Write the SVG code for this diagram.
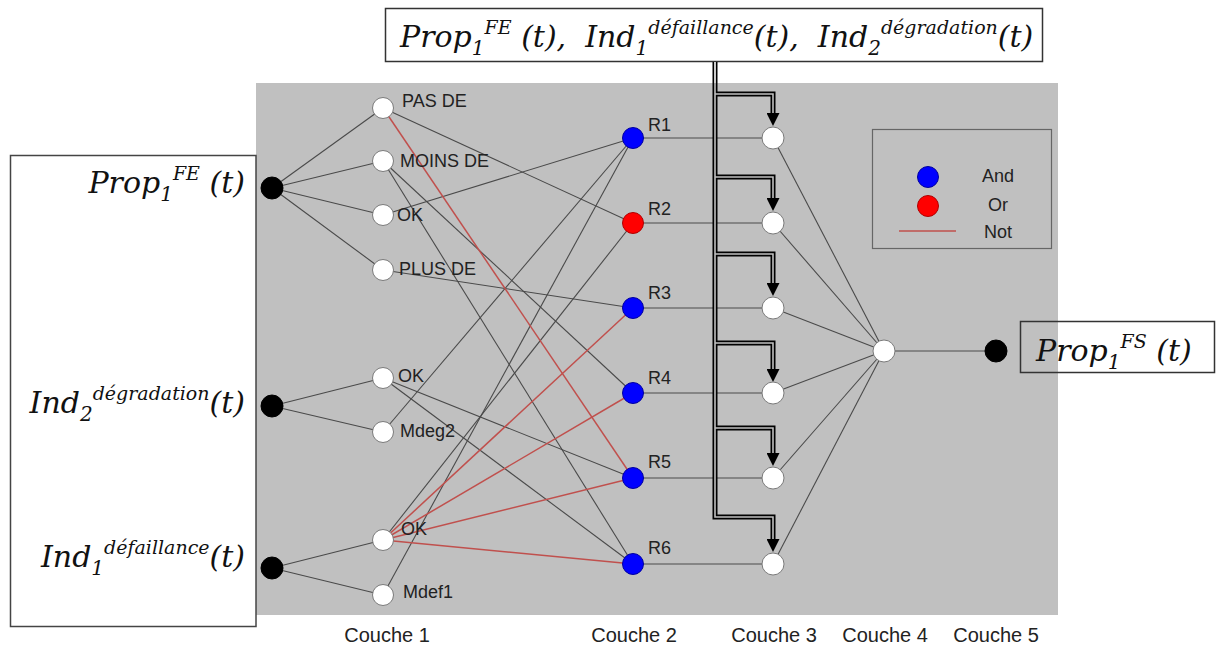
<svg xmlns="http://www.w3.org/2000/svg" width="1216" height="649" viewBox="0 0 1216 649">
<defs>
<style>
.big{font-family:"DejaVu Serif","Liberation Serif",serif;font-style:italic;font-size:30px;fill:#111}
.sub{font-size:20px}
.sup{font-size:19px}
.lbl{font-family:"Liberation Sans",Arial,sans-serif;font-size:18px;fill:#222}
.cou{font-family:"Liberation Sans",Arial,sans-serif;font-size:20px;fill:#222;text-anchor:middle}
.c{stroke:#4a4a4a;stroke-width:1.1;fill:none}
.n{stroke:#c0504d;stroke-width:1.5;fill:none}
.wn{fill:#fff;stroke:#7a7a7a;stroke-width:1}
.bn{fill:#000;stroke:#000;stroke-width:1}
.and{fill:#0000ff;stroke:#0000a0;stroke-width:1}
.or{fill:#ff0000;stroke:#b00000;stroke-width:1}
.busO{stroke:#000;stroke-width:5;fill:none}
.busI{stroke:#c0c0c0;stroke-width:1.6;fill:none}
</style>
<marker id="ah" viewBox="0 0 12 12" markerWidth="13" markerHeight="13" markerUnits="userSpaceOnUse" refX="0" refY="6" orient="auto">
<path d="M0,0 L12,6 L0,12 z" fill="#000"/>
</marker>
</defs>
<rect width="1216" height="649" fill="#fff"/>
<rect id="panel" x="256" y="83" width="802" height="532" fill="#c0c0c0"/>

<g id="left-box">
<rect x="10.5" y="155.5" width="245.5" height="471" fill="#fff" stroke="#444" stroke-width="1.5"/>
<text class="big" x="245" y="193" text-anchor="end">Prop<tspan class="sub" dy="8">1</tspan><tspan class="sup" dy="-21">FE</tspan><tspan dy="13"> (t)</tspan></text>
<text class="big" x="245" y="413" text-anchor="end">Ind<tspan class="sub" dy="8">2</tspan><tspan class="sup" dy="-21">dégradation</tspan><tspan dy="13">(t)</tspan></text>
<text class="big" x="245" y="567" text-anchor="end">Ind<tspan class="sub" dy="8">1</tspan><tspan class="sup" dy="-21">défaillance</tspan><tspan dy="13">(t)</tspan></text>
</g>

<g id="top-box">
<rect x="385.5" y="8.5" width="657" height="53" fill="#fff" stroke="#333" stroke-width="1.5"/>
<text class="big" x="400" y="47">Prop<tspan class="sub" dy="8">1</tspan><tspan class="sup" dy="-21">FE</tspan><tspan dy="13"> (t),&#160; Ind</tspan><tspan class="sub" dy="8">1</tspan><tspan class="sup" dy="-21">défaillance</tspan><tspan dy="13">(t),&#160; Ind</tspan><tspan class="sub" dy="8">2</tspan><tspan class="sup" dy="-21">dégradation</tspan><tspan dy="13">(t)</tspan></text>
</g>

<g id="connectors">
<line class="c" x1="272" y1="188" x2="383" y2="108"/>
<line class="c" x1="272" y1="188" x2="383" y2="161"/>
<line class="c" x1="272" y1="188" x2="383" y2="215"/>
<line class="c" x1="272" y1="188" x2="383" y2="270"/>
<line class="c" x1="272" y1="406" x2="383" y2="378"/>
<line class="c" x1="272" y1="406" x2="383" y2="432"/>
<line class="c" x1="272" y1="568" x2="383" y2="540"/>
<line class="c" x1="272" y1="568" x2="383" y2="595"/>
<line class="c" x1="383" y1="108" x2="633" y2="223"/>
<line class="c" x1="383" y1="161" x2="633" y2="393"/>
<line class="c" x1="383" y1="161" x2="633" y2="564"/>
<line class="c" x1="383" y1="215" x2="633" y2="138"/>
<line class="c" x1="383" y1="270" x2="633" y2="308"/>
<line class="c" x1="383" y1="378" x2="633" y2="478"/>
<line class="c" x1="383" y1="378" x2="633" y2="564"/>
<line class="c" x1="383" y1="432" x2="633" y2="138"/>
<line class="c" x1="383" y1="540" x2="633" y2="223"/>
<line class="c" x1="383" y1="595" x2="633" y2="138"/>
<line class="n" x1="383" y1="108" x2="633" y2="478"/>
<line class="n" x1="383" y1="540" x2="633" y2="308"/>
<line class="n" x1="383" y1="540" x2="633" y2="393"/>
<line class="n" x1="383" y1="540" x2="633" y2="478"/>
<line class="n" x1="383" y1="540" x2="633" y2="564"/>
<line class="c" x1="633" y1="138" x2="773" y2="138"/>
<line class="c" x1="633" y1="223" x2="773" y2="223"/>
<line class="c" x1="633" y1="308" x2="773" y2="308"/>
<line class="c" x1="633" y1="393" x2="773" y2="393"/>
<line class="c" x1="633" y1="478" x2="773" y2="478"/>
<line class="c" x1="633" y1="564" x2="773" y2="564"/>
<line class="c" x1="773" y1="138" x2="884" y2="351"/>
<line class="c" x1="773" y1="223" x2="884" y2="351"/>
<line class="c" x1="773" y1="308" x2="884" y2="351"/>
<line class="c" x1="773" y1="393" x2="884" y2="351"/>
<line class="c" x1="773" y1="478" x2="884" y2="351"/>
<line class="c" x1="773" y1="564" x2="884" y2="351"/>
<line class="c" x1="884" y1="351" x2="996" y2="351"/>
<g class="busO">
<path d="M715,62 V517 H773 V539" marker-end="url(#ah)"/>
<path d="M715,94 H773 V113" marker-end="url(#ah)"/>
<path d="M715,177 H773 V198" marker-end="url(#ah)"/>
<path d="M715,254 H773 V283" marker-end="url(#ah)"/>
<path d="M715,343 H773 V369" marker-end="url(#ah)"/>
<path d="M715,428 H773 V453" marker-end="url(#ah)"/>
</g>
<g class="busI">
<path d="M715,62 V83" stroke="#fff"/>
<path d="M715,83 V517 H773 V539"/>
<path d="M715,94 H773 V113"/>
<path d="M715,177 H773 V198"/>
<path d="M715,254 H773 V283"/>
<path d="M715,343 H773 V369"/>
<path d="M715,428 H773 V453"/>
</g>
</g>

<g id="inputs">
<circle class="bn" cx="272" cy="188" r="11"/>
<circle class="bn" cx="272" cy="406" r="11"/>
<circle class="bn" cx="272" cy="568" r="11"/>
</g>

<g id="layer1">
<g id="n-pasde"><circle class="wn" cx="383" cy="108" r="10.5"/><text class="lbl" x="402" y="107">PAS DE</text></g>
<g id="n-moinsde"><circle class="wn" cx="383" cy="161" r="10.5"/><text class="lbl" x="400" y="167">MOINS DE</text></g>
<g id="n-ok1"><circle class="wn" cx="383" cy="215" r="10.5"/><text class="lbl" x="397" y="221">OK</text></g>
<g id="n-plusde"><circle class="wn" cx="383" cy="270" r="10.5"/><text class="lbl" x="399" y="275">PLUS DE</text></g>
<g id="n-ok2"><circle class="wn" cx="383" cy="378" r="10.5"/><text class="lbl" x="398" y="382">OK</text></g>
<g id="n-mdeg2"><circle class="wn" cx="383" cy="432" r="10.5"/><text class="lbl" x="400" y="437">Mdeg2</text></g>
<g id="n-ok3"><circle class="wn" cx="383" cy="540" r="10.5"/><text class="lbl" x="401" y="535">OK</text></g>
<g id="n-mdef1"><circle class="wn" cx="383" cy="595" r="10.5"/><text class="lbl" x="403" y="598">Mdef1</text></g>
</g>

<g id="layer2">
<g id="r1"><circle class="and" cx="633" cy="138" r="10.5"/><text class="lbl" x="648" y="131">R1</text></g>
<g id="r2"><circle class="or" cx="633" cy="223" r="10.5"/><text class="lbl" x="648" y="215">R2</text></g>
<g id="r3"><circle class="and" cx="633" cy="308" r="10.5"/><text class="lbl" x="648" y="299">R3</text></g>
<g id="r4"><circle class="and" cx="633" cy="393" r="10.5"/><text class="lbl" x="648" y="384">R4</text></g>
<g id="r5"><circle class="and" cx="633" cy="478" r="10.5"/><text class="lbl" x="648" y="468">R5</text></g>
<g id="r6"><circle class="and" cx="633" cy="564" r="10.5"/><text class="lbl" x="648" y="554">R6</text></g>
</g>

<g id="layer3">
<circle class="wn" cx="773" cy="138" r="11"/>
<circle class="wn" cx="773" cy="223" r="11"/>
<circle class="wn" cx="773" cy="308" r="11"/>
<circle class="wn" cx="773" cy="393" r="11"/>
<circle class="wn" cx="773" cy="478" r="11"/>
<circle class="wn" cx="773" cy="564" r="11"/>
</g>

<g id="layer4"><circle class="wn" cx="884" cy="351" r="11"/></g>

<g id="output">
<circle class="bn" cx="996" cy="351" r="11"/>
<rect x="1020.5" y="321.5" width="194" height="51" fill="none" stroke="#333" stroke-width="1.5"/>
<text class="big" x="1036" y="361">Prop<tspan class="sub" dy="8">1</tspan><tspan class="sup" dy="-21">FS</tspan><tspan dy="13"> (t)</tspan></text>
</g>

<g id="legend">
<rect x="872.5" y="129.5" width="179" height="119" fill="none" stroke="#666" stroke-width="1.2"/>
<circle class="and" cx="928" cy="177" r="10.5"/>
<circle class="or" cx="928" cy="206" r="10.5"/>
<line class="n" x1="899" y1="231" x2="956" y2="231"/>
<text class="lbl" x="998" y="182" text-anchor="middle">And</text>
<text class="lbl" x="998" y="211" text-anchor="middle">Or</text>
<text class="lbl" x="998" y="238" text-anchor="middle">Not</text>
</g>

<g id="layers">
<text class="cou" x="387" y="642">Couche 1</text>
<text class="cou" x="634" y="642">Couche 2</text>
<text class="cou" x="774" y="642">Couche 3</text>
<text class="cou" x="885" y="642">Couche 4</text>
<text class="cou" x="996" y="642">Couche 5</text>
</g>
</svg>
